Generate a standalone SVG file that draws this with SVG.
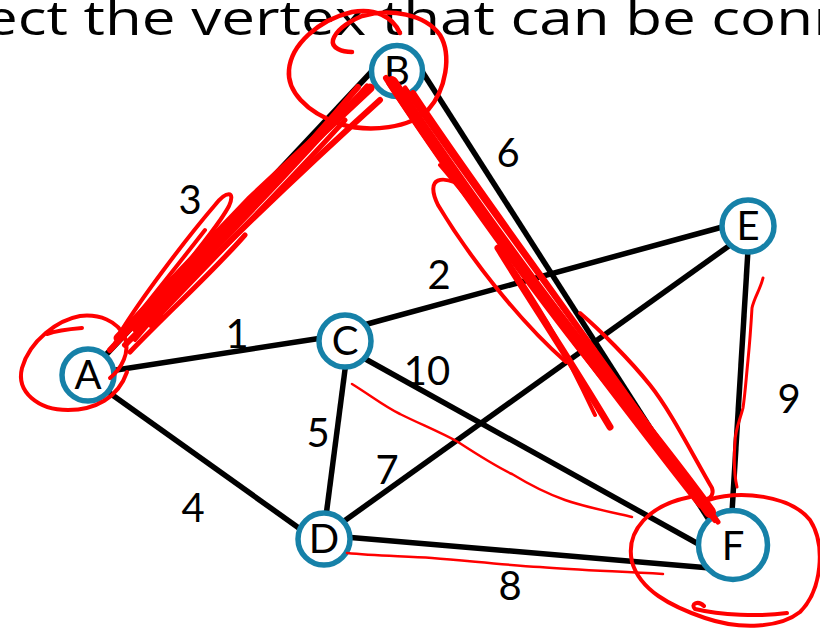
<svg xmlns="http://www.w3.org/2000/svg" width="820" height="629" viewBox="0 0 820 629">
<style>
.edge{stroke:#000;stroke-width:5.5;stroke-linecap:butt;fill:none}
.node{fill:#fff;stroke:#1681a8;stroke-width:5.5}
.lbl{font-family:Lato,"DejaVu Sans",sans-serif;font-size:40px;fill:#000;text-anchor:middle}
.w{font-family:Lato,"DejaVu Sans",sans-serif;font-size:40px;fill:#000;text-anchor:middle}
.title{font-family:"Open Sans","Noto Sans",sans-serif;font-size:48px;fill:#000}
.ink{fill:none;stroke:#ff0000;stroke-linecap:round;stroke-linejoin:round}
</style>
<rect width="820" height="629" fill="#fff"/>
<text class="title" x="-16" y="35" textLength="866" lengthAdjust="spacingAndGlyphs">ect the vertex that can be conn</text>
<g id="connectors">
<line class="edge" x1="88" y1="374" x2="374" y2="69"/>
<line class="edge" x1="110" y1="371" x2="322" y2="338"/>
<line class="edge" x1="104" y1="389" x2="303" y2="531"/>
<line class="edge" x1="418" y1="65" x2="711" y2="523"/>
<line class="edge" x1="360" y1="326" x2="726" y2="226"/>
<line class="edge" x1="360" y1="356" x2="702" y2="546"/>
<line class="edge" x1="346" y1="362" x2="326" y2="516"/>
<line class="edge" x1="340" y1="524" x2="733" y2="243"/>
<line class="edge" x1="345" y1="537" x2="710" y2="568"/>
<line class="edge" x1="748" y1="250" x2="732" y2="512"/>
<text class="w" x="190" y="214">3</text>
<text class="w" x="237" y="348">1</text>
<text class="w" x="193" y="522">4</text>
<text class="w" x="508" y="167">6</text>
<text class="w" x="439" y="289">2</text>
<text class="w" x="427" y="385">10</text>
<text class="w" x="318" y="447">5</text>
<text class="w" x="387" y="484">7</text>
<text class="w" x="510" y="600">8</text>
<text class="w" x="789" y="413">9</text>
</g>
<g id="node-A"><circle class="node" cx="88" cy="375" r="26"/><text class="lbl" x="88" y="389">A</text></g>
<g id="node-B"><circle class="node" cx="397" cy="71" r="25.5"/><text class="lbl" x="397" y="85">B</text></g>
<g id="node-C"><circle class="node" cx="345" cy="341" r="26"/><text class="lbl" x="345" y="355">C</text></g>
<g id="node-D"><circle class="node" cx="324" cy="539" r="26"/><text class="lbl" x="324" y="553">D</text></g>
<g id="node-E"><circle class="node" cx="748" cy="226" r="26"/><text class="lbl" x="748" y="240">E</text></g>
<g id="node-F"><circle class="node" cx="733" cy="545" r="34.5"/><text class="lbl" x="733" y="560">F</text></g>
<g id="annotations">
<path class="ink" stroke-width="4.5" d="M352,52 C342,52 331,48 333,40 C336,30 348,22 362,16 C390,8 425,14 440,35 C452,55 446,90 428,110 C410,128 370,133 340,124 C305,112 287,90 289,70 C291,45 318,20 352,12 C375,8 392,16 400,33"/>
<path class="ink" stroke-width="4" d="M47,334 C58,330 70,329 82,328 M110,378 C122,368 130,352 125,338 C118,320 98,314 80,316 C58,320 30,340 22,368 C16,392 38,410 68,410 C95,410 118,398 127,372"/>
<path class="ink" stroke-width="4" d="M708,500 C740,490 790,495 810,520 C826,545 822,590 800,612 C780,628 740,630 705,618 C670,606 640,590 632,562 C625,530 650,505 690,497 M787,613 C760,617 720,615 695,609 C690,604 698,600 704,606"/>
<path class="ink" stroke-width="9" d="M118,338 L250,200 L370,88"/>
<path class="ink" stroke-width="6" d="M110,350 C170,285 250,215 358,87"/>
<path class="ink" stroke-width="6" d="M125,345 C200,270 280,190 380,100"/>
<path class="ink" stroke-width="5" d="M135,330 C190,275 260,205 367,86"/>
<path class="ink" stroke-width="5" d="M150,325 C210,262 300,170 345,120 M130,352 C170,310 210,275 245,235"/>
<path class="ink" stroke-width="4" d="M120,333 C140,300 185,240 215,205 C226,191 236,190 229,206 C215,232 180,270 150,310"/>
<path class="ink" stroke-width="4" d="M115,343 C150,300 180,262 205,230 M135,340 C160,310 175,295 200,262"/>
<path class="ink" stroke-width="12" d="M392,82 C430,140 520,270 600,370 C640,420 680,470 710,512"/>
<path class="ink" stroke-width="6" d="M386,78 C440,160 540,300 700,505"/>
<path class="ink" stroke-width="6" d="M413,93 C470,180 560,300 715,520"/>
<path class="ink" stroke-width="5" d="M405,88 C460,170 610,370 718,522"/>
<path class="ink" stroke-width="4" d="M470,190 C440,172 425,178 438,205 C468,255 518,320 566,362"/>
<path class="ink" stroke-width="7" d="M498,248 C530,300 570,360 610,427"/>
<path class="ink" stroke-width="4" d="M500,250 C535,300 560,340 595,415"/>
<path class="ink" stroke-width="4" d="M580,313 C600,330 630,360 650,385 C670,410 690,450 712,488 C716,500 700,505 690,490"/>
<path class="ink" stroke-width="4" d="M440,165 C470,200 500,240 520,260"/>
<path class="ink" stroke-width="2.5" d="M352,384 C370,395 385,407 400,414 C420,424 440,432 458,442 C478,455 495,466 512,474 C530,485 548,494 565,500 C585,507 610,512 632,517"/>
<path class="ink" stroke-width="2.5" d="M347,553 C375,556 405,556 432,558 C470,561 505,565 540,567 C575,570 610,571 663,574"/>
<path class="ink" stroke-width="3" d="M763,278 C760,290 754,298 752,308 C751,325 750,340 748,360 C746,380 745,395 743,408 C740,420 735,430 735,442 C734,455 733,470 737,487"/>
</g>
</svg>
